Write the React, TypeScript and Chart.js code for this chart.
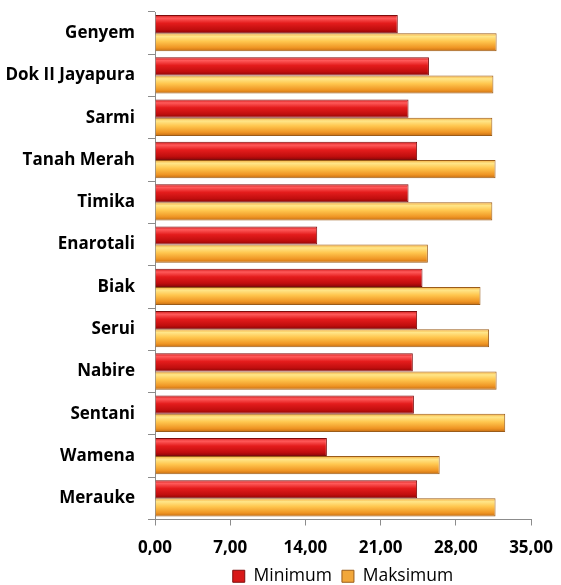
import React, { useEffect, useRef } from "react";
import { Chart, registerables } from "chart.js";

Chart.register(...registerables);

const categories = [
  "Genyem",
  "Dok II Jayapura",
  "Sarmi",
  "Tanah Merah",
  "Timika",
  "Enarotali",
  "Biak",
  "Serui",
  "Nabire",
  "Sentani",
  "Wamena",
  "Merauke",
];
const minimum = [22.6, 25.5, 23.6, 24.4, 23.6, 15.1, 24.9, 24.4, 24.0, 24.1, 16.0, 24.4];
const maksimum = [31.8, 31.5, 31.4, 31.7, 31.4, 25.4, 30.3, 31.1, 31.8, 32.6, 26.5, 31.7];
const seriesNames = ["Minimum", "Maksimum"];
const xMax = 35;
const xStep = 7;

const CAT_PCT = 0.86;
const FONT = "'Open Sans', 'Noto Sans', sans-serif";

function makeGradient(ctx: any, datasetIndex: number, stops: string[], fallback: string) {
  const chart = ctx.chart;
  const area = chart.chartArea;
  const yScale = chart.scales && chart.scales.y;
  if (!area || !yScale || ctx.dataIndex === undefined) return fallback;
  const yc = yScale.getPixelForValue(ctx.dataIndex);
  const band = (area.bottom - area.top) / categories.length;
  const bh = (band * CAT_PCT) / 2;
  const top = datasetIndex === 0 ? yc - bh : yc;
  const g = chart.ctx.createLinearGradient(0, top, 0, top + bh);
  g.addColorStop(0, stops[0]);
  g.addColorStop(0.18, stops[1]);
  g.addColorStop(0.45, stops[2]);
  g.addColorStop(0.8, stops[3]);
  g.addColorStop(1, stops[4]);
  return g;
}

const zeroPad = (s: any) => {
  s.paddingTop = 0;
  s.paddingBottom = 0;
  s.paddingLeft = 0;
  s.paddingRight = 0;
};

export default function App() {
  const ref = useRef<HTMLCanvasElement | null>(null);
  useEffect(() => {
    document.body.style.margin = "0";
    const canvas = ref.current;
    if (!canvas) return;
    const chart = new Chart(canvas, {
      type: "bar",
      data: {
        labels: categories,
        datasets: [
          {
            label: seriesNames[0],
            data: minimum,
            backgroundColor: (c: any) =>
              makeGradient(c, 0, ["#d01818", "#ff5a5a", "#e41c1c", "#c00e0e", "#8a0606"], "#d81818"),
            borderColor: "#7e0c0c",
            borderWidth: 1,
            categoryPercentage: CAT_PCT,
            barPercentage: 1,
          },
          {
            label: seriesNames[1],
            data: maksimum,
            backgroundColor: (c: any) =>
              makeGradient(c, 1, ["#f3a838", "#ffe689", "#ffc64e", "#ef9524", "#c46c12"], "#f2a73a"),
            borderColor: "#9a5c1a",
            borderWidth: 1,
            categoryPercentage: CAT_PCT,
            barPercentage: 1,
          },
        ],
      },
      options: {
        indexAxis: "y",
        responsive: false,
        animation: false,
        layout: { autoPadding: false, padding: { top: 12, right: 30, left: 6, bottom: -10 } },
        scales: {
          x: {
            min: 0,
            max: xMax,
            afterFit: (s: any) => {
              zeroPad(s);
              s.height = 38;
            },
            ticks: {
              stepSize: xStep,
              padding: 12,
              maxRotation: 0,
              minRotation: 0,
              color: "#000",
              font: { family: FONT, size: 17, weight: "bold" },
              callback: (v: any) => Number(v).toFixed(2).replace(".", ","),
            },
            grid: {
              display: true,
              drawOnChartArea: false,
              drawTicks: true,
              tickLength: 6,
              color: "#8c8c8c",
            },
            border: { display: true, color: "#8c8c8c", width: 1 },
          },
          y: {
            afterFit: (s: any) => {
              zeroPad(s);
              s.width = 149;
            },
            ticks: {
              padding: 13,
              color: "#000",
              font: { family: FONT, size: 17, weight: "bold" },
            },
            grid: {
              display: true,
              drawOnChartArea: false,
              drawTicks: true,
              tickLength: 7,
              offset: true,
              color: "#8c8c8c",
            },
            border: { display: true, color: "#8c8c8c", width: 1 },
          },
        },
        plugins: {
          legend: {
            position: "bottom",
            fullSize: false,
            labels: {
              color: "#000",
              boxWidth: 12,
              boxHeight: 12,
              padding: 10,
              font: { family: FONT, size: 17.5 },
              generateLabels: (ch: any) =>
                ch.data.datasets.map((d: any, i: number) => ({
                  text: d.label,
                  fillStyle: i === 0 ? "#d81818" : "#f2a73a",
                  strokeStyle: i === 0 ? "#7e0c0c" : "#9a5c1a",
                  lineWidth: 1,
                  hidden: false,
                  datasetIndex: i,
                })),
            },
          },
          tooltip: { enabled: false },
        },
      },
    } as any);
    return () => chart.destroy();
  }, []);
  return (
    <div style={{ width: 561, height: 585, background: "#fff" }}>
      <canvas ref={ref} width={561} height={585} style={{ display: "block" }} />
    </div>
  );
}
